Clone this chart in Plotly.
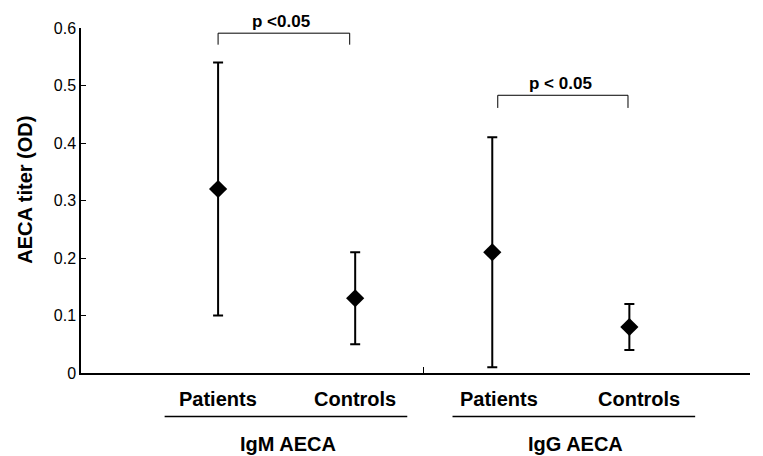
import plotly.graph_objects as go

groups = ["IgM AECA", "IgG AECA"]
subjects = ["Patients", "Controls", "Patients", "Controls"]
means = [0.32, 0.13, 0.21, 0.08]
upper = [0.54, 0.21, 0.41, 0.12]
lower = [0.10, 0.05, 0.01, 0.04]
y_ticks = [0, 0.1, 0.2, 0.3, 0.4, 0.5, 0.6]
y_tick_text = ["0", "0.1", "0.2", "0.3", "0.4", "0.5", "0.6"]
p_labels = ["p <0.05", "p < 0.05"]

xpos = [1.0, 2.0, 3.0, 4.0]
err_plus = [u - m for u, m in zip(upper, means)]
err_minus = [m - l for m, l in zip(means, lower)]

FONT = "Liberation Sans, Arial, sans-serif"

fig = go.Figure()
fig.add_trace(go.Scatter(
    x=xpos, y=means, mode="markers",
    marker=dict(symbol="diamond", size=14, color="black"),
    error_y=dict(type="data", symmetric=False, array=err_plus, arrayminus=err_minus,
                 color="black", thickness=2, width=5),
    showlegend=False, cliponaxis=False,
))

shapes = []
# significance brackets
brackets = [(1.0, 1.96, 0.571, 0.591), (3.04, 3.99, 0.461, 0.483)]
for (x0, x1, yb, yt) in brackets:
    shapes.append(dict(type="path", xref="x", yref="y",
                       path=f"M {x0},{yb} L {x0},{yt} L {x1},{yt} L {x1},{yb}",
                       line=dict(color="black", width=1)))
# group underlines
for x0, x1 in [(0.61, 2.38), (2.71, 4.48)]:
    shapes.append(dict(type="line", xref="x", yref="paper", x0=x0, x1=x1,
                       y0=-0.126, y1=-0.126, line=dict(color="black", width=1.5)))

annotations = []
for (x0, x1, yb, yt), lab in zip(brackets, p_labels):
    annotations.append(dict(x=(x0 + x1) / 2 - 0.02, y=yt, xref="x", yref="y", text=f"<b>{lab}</b>",
                            showarrow=False, yanchor="bottom", xanchor="center", yshift=0,
                            font=dict(size=17, color="black", family=FONT)))
label_x = [1.0, 2.0, 3.05, 4.07]
for x, s in zip(label_x, subjects):
    annotations.append(dict(x=x, y=-0.074, xref="x", yref="paper", text=f"<b>{s}</b>",
                            showarrow=False, xanchor="center", yanchor="middle",
                            font=dict(size=20, color="black", family=FONT)))
for x, g in zip([1.51, 3.61], groups):
    annotations.append(dict(x=x, y=-0.206, xref="x", yref="paper", text=f"<b>{g}</b>",
                            showarrow=False, xanchor="center", yanchor="middle",
                            font=dict(size=20, color="black", family=FONT)))
annotations.append(dict(x=-0.085, y=0.319, xref="paper", yref="y", text="<b>AECA titer (OD)</b>",
                        showarrow=False, textangle=-90, xanchor="center", yanchor="middle",
                        font=dict(size=20, color="black", family=FONT)))

# page body has an 8px default margin; figure sized to fit 763x456 window
fig.update_layout(
    width=755, height=448,
    margin=dict(l=73, r=13, t=15, b=83),
    plot_bgcolor="white", paper_bgcolor="white",
    shapes=shapes, annotations=annotations,
    xaxis=dict(range=[0, 4.88], showgrid=False, zeroline=False, showline=True,
               linecolor="black", linewidth=1.5, tickvals=[2.5], ticktext=[""],
               ticks="inside", ticklen=6, tickcolor="black", tickwidth=1),
    yaxis=dict(range=[0, 0.6], showgrid=False, zeroline=False, showline=True,
               linecolor="black", linewidth=1.5, tickvals=y_ticks, ticktext=y_tick_text,
               ticks="inside", ticklen=5, tickcolor="black", tickwidth=1,
               tickfont=dict(size=16, color="black", family=FONT)),
)

fig.write_html("out.html")
